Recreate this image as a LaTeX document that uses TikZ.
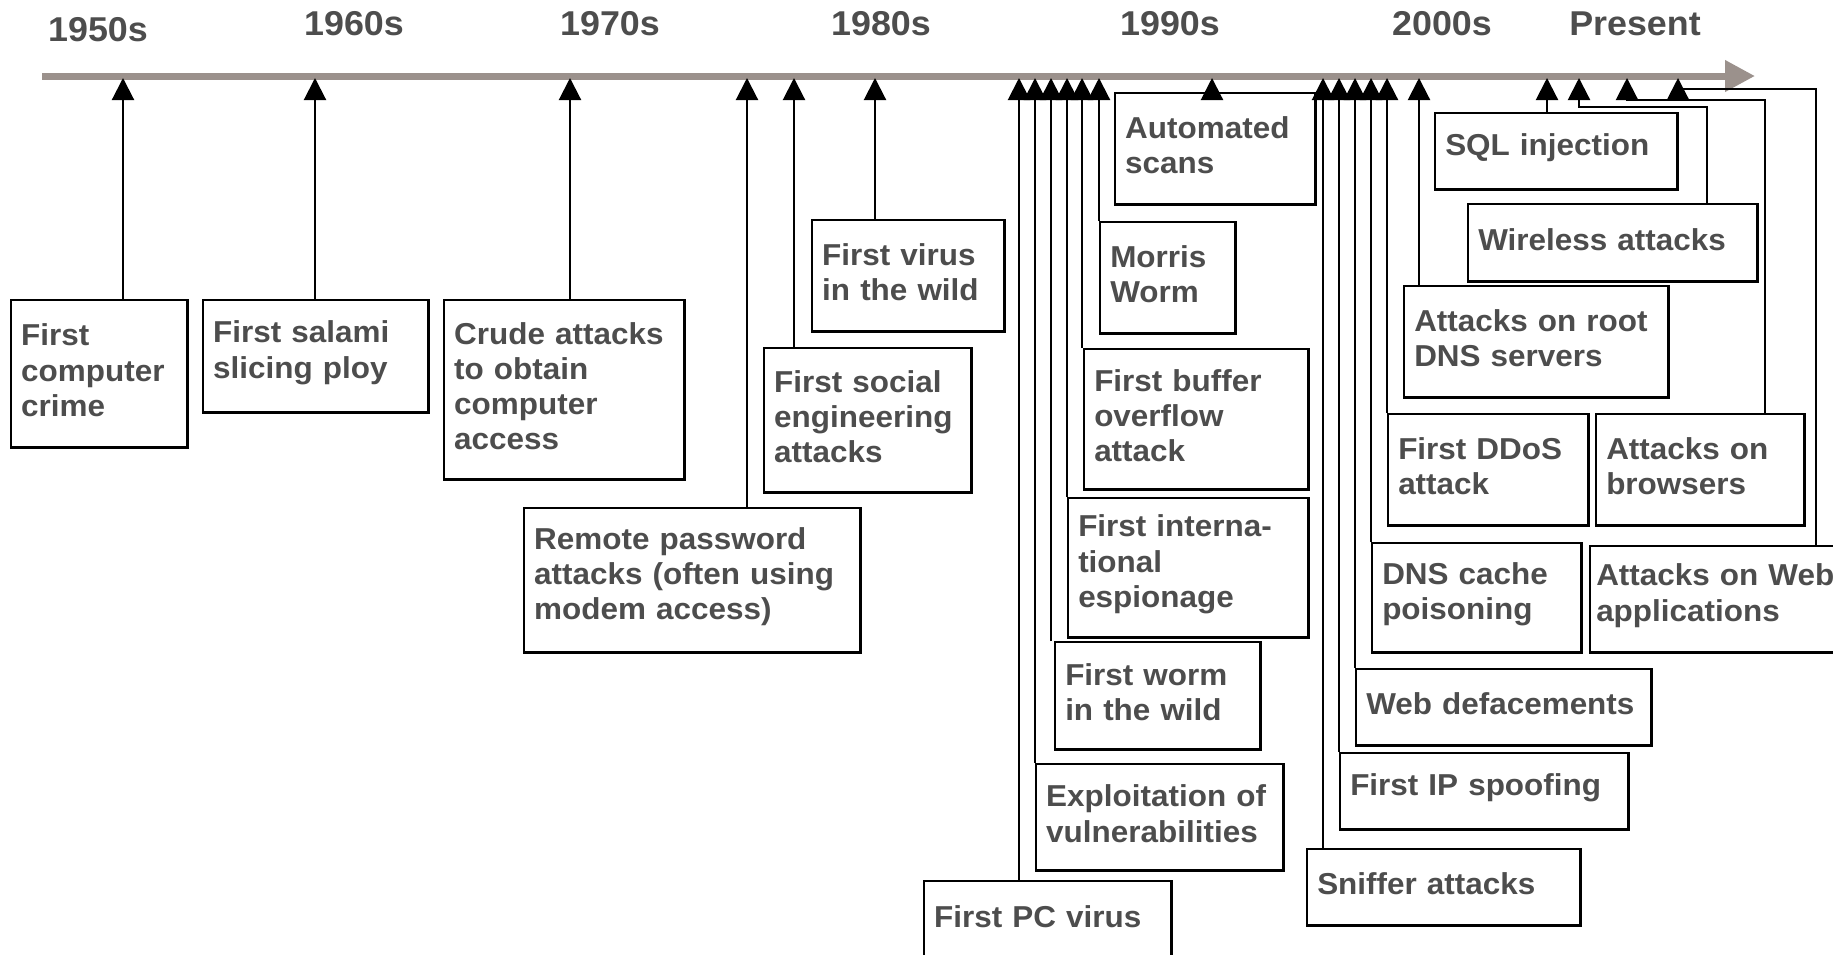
\documentclass[tikz,border=0pt]{standalone}
\usepackage{fontspec}
\setmainfont{Liberation Sans}[FakeStretch=1.04]
\usetikzlibrary{arrows.meta}
\definecolor{txtgray}{RGB}{77,77,77}
\definecolor{bargray}{RGB}{155,145,140}
\tikzset{
  font={\fontsize{8.6pt}{10pt}\selectfont\bfseries},
  evbox/.style={draw, line width=0.7pt, shape=rectangle, anchor=north west,
    align=left, inner xsep=0.1cm, text=txtgray,
    execute at end node={\par\vspace*{2pt}}},
  decadelbl/.style={text=txtgray, font={\fontsize{9.8pt}{12pt}\selectfont\bfseries}},
  evarrow/.style={line width=0.6pt, -{Triangle[length=0.22cm, width=0.22cm]}}}

\begin{document}
\begin{tikzpicture}[x=0.01cm, y=-0.01cm]
  \useasboundingbox (0,0) rectangle (1833,954);
  % decades
  \node[decadelbl] (d50) at (98,30) {1950s};
  \node[decadelbl] (d60) at (354,24) {1960s};
  \node[decadelbl] (d70) at (610,24) {1970s};
  \node[decadelbl] (d80) at (881,24) {1980s};
  \node[decadelbl] (d90) at (1170,24) {1990s};
  \node[decadelbl] (d00) at (1442,24) {2000s};
  \node[decadelbl] (dnow) at (1635,24) {Present};
  % time line
  \draw[line width=0.07cm, bargray, -{Triangle[length=0.3cm, width=0.3cm]}] (42,76) -- (1755,76);
  % points where the arrows meet the line
  \coordinate (t1) at (123,78);
  \coordinate (t2) at (315,78);
  \coordinate (t3) at (570,78);
  \coordinate (t4) at (747,78);
  \coordinate (t5) at (794,78);
  \coordinate (t6) at (875,78);
  \coordinate (t7) at (1019,78);
  \coordinate (t8) at (1035,78);
  \coordinate (t9) at (1051,78);
  \coordinate (t10) at (1067,78);
  \coordinate (t11) at (1082,78);
  \coordinate (t12) at (1099,78);
  \coordinate (t13) at (1212,78);
  \coordinate (t14) at (1323,78);
  \coordinate (t15) at (1339,78);
  \coordinate (t16) at (1355,78);
  \coordinate (t17) at (1371,78);
  \coordinate (t18) at (1387,78);
  \coordinate (t19) at (1419,78);
  \coordinate (t20) at (1547,78);
  \coordinate (t21) at (1579,78);
  \coordinate (t22) at (1627,78);
  \coordinate (t23) at (1678,78);
  \coordinate (bend21) at (1707,107);
  \coordinate (bend22) at (1765,100);
  \coordinate (bend23) at (1816,89);
  % events
  \node[evbox, text width=1.56cm, minimum height=1.47cm] (crime) at (10,299) {First\\computer\\crime};
  \node[evbox, text width=2.05cm, minimum height=1.12cm] (salami) at (202,299) {First salami\\slicing ploy};
  \node[evbox, text width=2.20cm, minimum height=1.79cm] (crude) at (443,299) {Crude attacks\\to obtain\\computer\\access};
  \node[evbox, text width=3.16cm, minimum height=1.44cm] (remote) at (523,507) {Remote password\\attacks (often using\\modem access)};
  \node[evbox, text width=1.87cm, minimum height=1.44cm] (social) at (763,347) {First social\\engineering\\attacks};
  \node[evbox, text width=1.72cm, minimum height=1.11cm] (virwild) at (811,219) {First virus\\in the wild};
  \node[evbox, text width=2.27cm, minimum height=0.78cm] (pcvirus) at (923,880) {First PC virus};
  \node[evbox, text width=2.27cm, minimum height=1.06cm] (exploit) at (1035,763) {Exploitation of\\vulnerabilities};
  \node[evbox, text width=1.85cm, minimum height=1.07cm] (worm) at (1054,641) {First worm\\in the wild};
  \node[evbox, text width=2.20cm, minimum height=1.39cm] (espion) at (1067,497) {First interna-\\tional\\espionage};
  \node[evbox, text width=2.04cm, minimum height=1.40cm] (buffer) at (1083,348) {First buffer\\overflow\\attack};
  \node[evbox, text width=1.15cm, minimum height=1.11cm] (morris) at (1099,221) {Morris\\Worm};
  \node[evbox, text width=1.80cm, minimum height=1.11cm] (autoscan) at (1114,92) {Automated\\scans};
  \node[evbox, text width=2.53cm, minimum height=0.76cm] (sniffer) at (1306,848) {Sniffer attacks};
  \node[evbox, text width=2.68cm, minimum height=0.76cm] (ipspoof) at (1339,752) {First IP spoofing};
  \node[evbox, text width=2.75cm, minimum height=0.76cm] (deface) at (1355,668) {Web defacements};
  \node[evbox, text width=1.89cm, minimum height=1.09cm] (dnscache) at (1371,542) {DNS cache\\poisoning};
  \node[evbox, text width=1.80cm, minimum height=1.11cm] (ddos) at (1387,413) {First DDoS\\attack};
  \node[evbox, text width=2.44cm, minimum height=1.11cm] (rootdns) at (1403,285) {Attacks on root\\DNS servers};
  \node[evbox, text width=2.22cm, minimum height=0.76cm] (sqlinj) at (1434,112) {SQL injection};
  \node[evbox, text width=2.69cm, minimum height=0.77cm] (wireless) at (1467,203) {Wireless attacks};
  \node[evbox, text width=1.88cm, minimum height=1.11cm] (browsers) at (1595,413) {Attacks on\\browsers};
  \node[evbox, inner xsep=0.06cm, text width=2.68cm, minimum height=1.06cm] (webapps) at (1589,545) {Attacks on Web\\applications};
  % arrows up to the time line
  \draw[evarrow] (crime.north -| t1) -- (t1);
  \draw[evarrow] (salami.north -| t2) -- (t2);
  \draw[evarrow] (crude.north -| t3) -- (t3);
  \draw[evarrow] (remote.north -| t4) -- (t4);
  \draw[evarrow] (social.north -| t5) -- (t5);
  \draw[evarrow] (virwild.north -| t6) -- (t6);
  \draw[evarrow] (pcvirus.north -| t7) -- (t7);
  \draw[evarrow] (exploit.north -| t8) -- (t8);
  \draw[evarrow] (worm.north -| t9) -- (t9);
  \draw[evarrow] (espion.north -| t10) -- (t10);
  \draw[evarrow] (buffer.north -| t11) -- (t11);
  \draw[evarrow] (morris.north -| t12) -- (t12);
  \draw[evarrow] (autoscan.north -| t13) -- (t13);
  \draw[evarrow] (sniffer.north -| t14) -- (t14);
  \draw[evarrow] (ipspoof.north -| t15) -- (t15);
  \draw[evarrow] (deface.north -| t16) -- (t16);
  \draw[evarrow] (dnscache.north -| t17) -- (t17);
  \draw[evarrow] (ddos.north -| t18) -- (t18);
  \draw[evarrow] (rootdns.north -| t19) -- (t19);
  \draw[evarrow] (sqlinj.north -| t20) -- (t20);
  \draw[evarrow] (wireless.north -| bend21) -- (bend21) -| (t21);
  \draw[evarrow] (browsers.north -| bend22) -- (bend22) -| (t22);
  \draw[evarrow] (webapps.north -| bend23) -- (bend23) -| (t23);
\end{tikzpicture}
\end{document}
